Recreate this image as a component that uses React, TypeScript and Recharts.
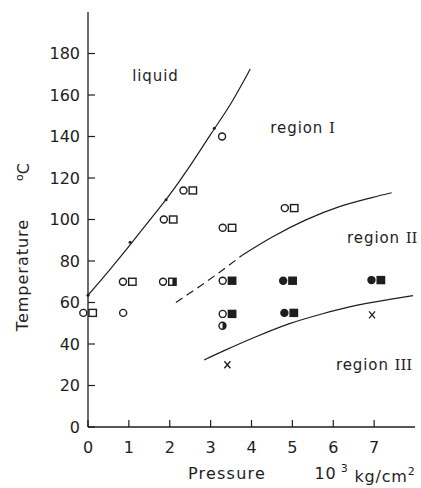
import React from 'react';
import { ComposedChart, XAxis, YAxis, Line, Scatter } from 'recharts';

// ---------- data ----------
const pressureTicks = [0, 1, 2, 3, 4, 5, 6, 7];
const temperatureTicks = [0, 20, 40, 60, 80, 100, 120, 140, 160, 180];

// boundary curves (pressure 10^3 kg/cm2, temperature °C)
const liquidCurve = [
  { p: 0, t: 63.5 }, { p: 0.5, t: 75 }, { p: 1, t: 87 }, { p: 1.5, t: 99.5 },
  { p: 2, t: 112 }, { p: 2.5, t: 126 }, { p: 3, t: 141 }, { p: 3.5, t: 156 }, { p: 3.97, t: 172.5 },
];
const regionIIDashed = [
  { p: 2.15, t: 60 }, { p: 2.48, t: 64.4 }, { p: 3.13, t: 73.3 }, { p: 3.78, t: 82.9 },
];
const regionIISolid = [
  { p: 3.78, t: 82.9 }, { p: 4.52, t: 91.7 }, { p: 5.33, t: 99.8 }, { p: 6.15, t: 106.2 },
  { p: 6.97, t: 110.7 }, { p: 7.43, t: 112.9 },
];
const regionIIICurve = [
  { p: 2.84, t: 32.3 }, { p: 3.33, t: 36.8 }, { p: 4.11, t: 43.5 }, { p: 4.93, t: 49.8 },
  { p: 5.74, t: 54.6 }, { p: 6.56, t: 58.6 }, { p: 7.38, t: 61.5 }, { p: 7.95, t: 63.3 },
];

// experimental points
const openPairs = [
  { p: 0, t: 55 }, { p: 0.97, t: 70 }, { p: 1.97, t: 100 }, { p: 2.45, t: 114 },
  { p: 3.41, t: 96 }, { p: 4.93, t: 105.5 },
];
const halfSquarePairs = [{ p: 1.95, t: 70 }];
const openCircleFilledSquarePairs = [{ p: 3.41, t: 70.5 }, { p: 3.41, t: 54.5 }];
const filledPairs = [{ p: 4.89, t: 70.5 }, { p: 4.92, t: 55 }, { p: 7.05, t: 70.8 }];
const openCircles = [{ p: 0.86, t: 55 }, { p: 3.28, t: 140 }];
const halfCircles = [{ p: 3.29, t: 48.8 }];
const crosses = [{ p: 3.41, t: 30 }, { p: 6.95, t: 54 }];
const curveDots = [{ p: 0, t: 63.5 }, { p: 1.03, t: 89 }, { p: 1.91, t: 109.5 }, { p: 3.09, t: 144 }];

const regionLabels = [
  { p: 1.65, t: 169.5, name: 'liquid', num: '' },
  { p: 5.25, t: 144.5, name: 'region ', num: 'I' },
  { p: 7.2, t: 91.5, name: 'region ', num: 'II' },
  { p: 7.0, t: 30, name: 'region ', num: 'III' },
];

// ---------- styling ----------
const INK = '#1e1e1e';
const FONT = 'DejaVu Sans';
const TM = 8;
const OFF = 4.7;

const circ = (x: number, y: number, fill: boolean) => (
  <circle cx={x} cy={y} r={3.5} fill={fill ? INK : '#fff'} stroke={INK} strokeWidth={1.4} />
);
const sq = (x: number, y: number, mode: 'open' | 'half' | 'full') => (
  <g>
    <rect x={x - 3.7} y={y - 3.5} width={7.4} height={7} fill={mode === 'full' ? INK : '#fff'} stroke={INK} strokeWidth={1.4} />
    {mode === 'half' && <rect x={x} y={y - 3.5} width={3.7} height={7} fill={INK} />}
  </g>
);

const shapeOpenPair = (props: any) => (
  <g>{circ(props.cx - OFF, props.cy, false)}{sq(props.cx + OFF, props.cy, 'open')}</g>
);
const shapeHalfPair = (props: any) => (
  <g>{circ(props.cx - OFF, props.cy, false)}{sq(props.cx + OFF, props.cy, 'half')}</g>
);
const shapeOpenFilledPair = (props: any) => (
  <g>{circ(props.cx - OFF, props.cy, false)}{sq(props.cx + OFF, props.cy, 'full')}</g>
);
const shapeFilledPair = (props: any) => (
  <g>{circ(props.cx - OFF, props.cy, true)}{sq(props.cx + OFF, props.cy, 'full')}</g>
);
const shapeOpenCircle = (props: any) => circ(props.cx, props.cy, false);
const shapeHalfCircle = (props: any) => (
  <g>
    <circle cx={props.cx} cy={props.cy} r={3.5} fill="#fff" stroke={INK} strokeWidth={1.4} />
    <path d={`M ${props.cx} ${props.cy - 3.5} A 3.5 3.5 0 0 1 ${props.cx} ${props.cy + 3.5} Z`} fill={INK} />
  </g>
);
const shapeCross = (props: any) => (
  <g stroke={INK} strokeWidth={1.3}>
    <line x1={props.cx - 3} y1={props.cy - 3.5} x2={props.cx + 3} y2={props.cy + 3.5} />
    <line x1={props.cx + 3} y1={props.cy - 3.5} x2={props.cx - 3} y2={props.cy + 3.5} />
  </g>
);
const shapeDot = (props: any) => <circle cx={props.cx} cy={props.cy} r={1.5} fill={INK} />;
const shapeLabel = (props: any) => (
  <text x={props.cx} y={props.cy} dy="0.36em" textAnchor="middle" fontSize={15} fill={INK}
    fontFamily={FONT} letterSpacing={0.9}>
    {props.payload.name}
    {props.payload.num && <tspan fontFamily="DejaVu Serif" letterSpacing={0}>{props.payload.num}</tspan>}
  </text>
);

const YTick = (props: any) => {
  const { x, y, payload } = props;
  const ax = x + TM;
  return (
    <g>
      <line x1={ax} x2={ax + 7} y1={y} y2={y} stroke={INK} strokeWidth={1.2} />
      <text x={x} y={y} dy="0.36em" textAnchor="end" fontSize={16} fill={INK} fontFamily={FONT}>
        {payload.value}
      </text>
    </g>
  );
};
const XTick = (props: any) => {
  const { x, y, payload } = props;
  const ay = y - TM;
  return (
    <g>
      <line x1={x} x2={x} y1={ay} y2={ay - 7} stroke={INK} strokeWidth={1.2} />
      <text x={x} y={ay + 20} dy="0.36em" textAnchor="middle" fontSize={16} fill={INK} fontFamily={FONT}>
        {payload.value}
      </text>
    </g>
  );
};

export default function App() {
  return (
    <div style={{ position: 'absolute', left: 0, top: 0, width: 421, height: 488, background: '#fff' }}>
      <ComposedChart width={421} height={488} margin={{ top: 12, right: 6, left: 0, bottom: 0 }}
        style={{ fontFamily: FONT }}>
        <XAxis type="number" dataKey="p" domain={[0, 8]} ticks={pressureTicks} interval={0}
          height={61} tickSize={0} tickMargin={TM} tickLine={false} tick={<XTick />}
          axisLine={{ stroke: INK, strokeWidth: 1.3 }} />
        <YAxis type="number" dataKey="t" domain={[0, 200]} ticks={temperatureTicks} interval={0}
          width={88} tickSize={0} tickMargin={TM} tickLine={false} tick={<YTick />}
          axisLine={{ stroke: INK, strokeWidth: 1.3 }} />
        <Line data={liquidCurve} dataKey="t" type="monotone" dot={false} stroke={INK} strokeWidth={1.2} isAnimationActive={false} />
        <Line data={regionIIDashed} dataKey="t" type="monotone" dot={false} stroke={INK} strokeWidth={1.2} strokeDasharray="8 5" isAnimationActive={false} />
        <Line data={regionIISolid} dataKey="t" type="monotone" dot={false} stroke={INK} strokeWidth={1.2} isAnimationActive={false} />
        <Line data={regionIIICurve} dataKey="t" type="monotone" dot={false} stroke={INK} strokeWidth={1.2} isAnimationActive={false} />
        <Scatter data={openPairs} dataKey="t" shape={shapeOpenPair} isAnimationActive={false} />
        <Scatter data={halfSquarePairs} dataKey="t" shape={shapeHalfPair} isAnimationActive={false} />
        <Scatter data={openCircleFilledSquarePairs} dataKey="t" shape={shapeOpenFilledPair} isAnimationActive={false} />
        <Scatter data={filledPairs} dataKey="t" shape={shapeFilledPair} isAnimationActive={false} />
        <Scatter data={openCircles} dataKey="t" shape={shapeOpenCircle} isAnimationActive={false} />
        <Scatter data={halfCircles} dataKey="t" shape={shapeHalfCircle} isAnimationActive={false} />
        <Scatter data={crosses} dataKey="t" shape={shapeCross} isAnimationActive={false} />
        <Scatter data={curveDots} dataKey="t" shape={shapeDot} isAnimationActive={false} />
        <Scatter data={regionLabels} dataKey="t" shape={shapeLabel} isAnimationActive={false} />
      </ComposedChart>
      <svg width={421} height={488} style={{ position: 'absolute', left: 0, top: 0, pointerEvents: 'none' }}
        fontFamily={FONT} fill={INK}>
        <text transform="translate(22,275) rotate(-90)" textAnchor="middle" dy="0.36em" fontSize={16} letterSpacing={1}>
          Temperature
        </text>
        <text transform="translate(25,172) rotate(-90)" textAnchor="middle" dy="0.36em" fontSize={16}>
          <tspan fontSize={11} dy="-0.2em">o</tspan><tspan dy="0.36em">C</tspan>
        </text>
        <text x={227} y={473} textAnchor="middle" dy="0.36em" fontSize={16} letterSpacing={1.2}>Pressure</text>
        <text x={365} y={473} textAnchor="middle" dy="0.36em" fontSize={16} letterSpacing={0.8}>
          10<tspan fontSize={11} dy="-0.6em"> 3</tspan><tspan dy="0.6em"> kg/cm</tspan><tspan fontSize={11} dy="-0.6em">2</tspan>
        </text>
      </svg>
    </div>
  );
}
